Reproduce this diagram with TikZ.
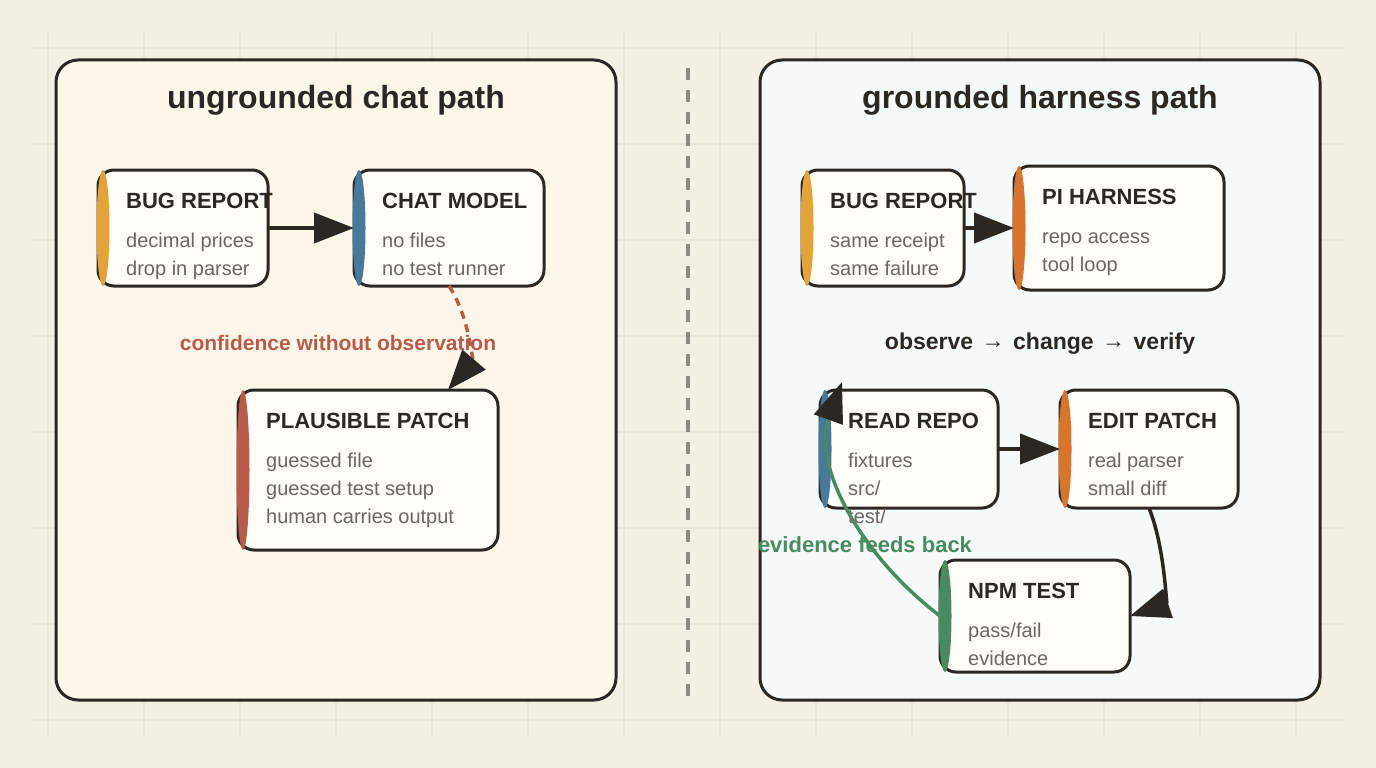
\documentclass[tikz,border=0pt]{standalone}
\usepackage{fontspec}
\setmainfont{Liberation Sans}
\usepackage{tikz}
\usetikzlibrary{positioning, arrows.meta}

\definecolor{paper}{HTML}{F5F0E4}
\definecolor{gridc}{HTML}{EDE6D6}
\definecolor{ink}{HTML}{2B2823}
\definecolor{panelwarm}{HTML}{FDF7EA}
\definecolor{panelcool}{HTML}{F5F9F8}
\definecolor{cardfill}{HTML}{FFFDF7}
\definecolor{mutetext}{HTML}{6B6660}
\definecolor{barorange}{HTML}{E3A23A}
\definecolor{barblue}{HTML}{46799C}
\definecolor{barred}{HTML}{B85B4B}
\definecolor{barrust}{HTML}{D6752B}
\definecolor{bargreen}{HTML}{4A8A60}
\definecolor{divider}{HTML}{8D8881}

\newcommand{\cardhead}[1]{\rule{0pt}{38pt}{\fontsize{22}{28}\selectfont\bfseries\color{ink}#1}}
\newcommand{\steparrow}{\hspace{12pt}\makebox[16pt]{\raisebox{1pt}{→}}\hspace{12pt}}

\tikzset{
    box_panel/.style={rectangle, draw=ink, line width=3pt, rounded corners=22pt, anchor=north west, inner sep=0pt, outer sep=0pt, minimum width=560pt, minimum height=640pt},
    box_titulo/.style={anchor=base, inner sep=0pt, text=ink, font=\fontsize{32}{38}\selectfont\bfseries},
    box_card/.style 2 args={rectangle, draw=ink, line width=3pt, rounded corners=16pt, fill=cardfill, anchor=north west, inner sep=0pt, outer sep=0pt, minimum width=#1, minimum height=#2},
    box_texto/.style={anchor=north west, inner sep=0pt, align=left, text=mutetext, font=\fontsize{20}{28}\selectfont},
    etiqueta/.style={anchor=base, inner sep=0pt, font=\fontsize{22}{26}\selectfont\bfseries},
    flecha/.style={-{Triangle[length=40pt, width=30pt]}, line width=4pt, draw=ink},
    flecha_curva/.style={-{Triangle[length=40pt, width=30pt, color=ink]}, line width=3.5pt}
}

\begin{document}
\begin{tikzpicture}[
        x=1pt, y=-1pt,
        grid_line/.style={draw=gridc, line width=1.2pt},
        divisor/.style={draw=divider, line width=3.5pt, dash pattern=on 12pt off 10pt},
        flecha_duda/.style={flecha_curva, draw=barred, dash pattern=on 8pt off 6pt},
        flecha_retorno/.style={flecha_curva, draw=bargreen}
    ]
    \useasboundingbox (0,0) rectangle (1376,768);
    \fill[paper] (0,0) rectangle (1376,768);

    % Background grid
    \foreach \gx in {48,144,...,1296}
        \draw[grid_line] (\gx,32) -- (\gx,736);
    \foreach \gy in {48,144,...,720}
        \draw[grid_line] (32,\gy) -- (1344,\gy);

    % 1. Panels and titles
    \node[box_panel, fill=panelwarm] (panelL) at (56,60) {};
    \node[box_panel, fill=panelcool] (panelR) at (760,60) {};
    \node[box_titulo] (titleL) at (336,108) {ungrounded chat path};
    \node[box_titulo] (titleR) at (1040,108) {grounded harness path};

    \draw[divisor] (688,68) -- (688,698);

    % 2. Left path cards
    \node[box_card={170pt}{116pt}] (bugL) at (98,170) {};
    \node[box_card={190pt}{116pt}] (chat) at (354,170) {};
    \node[box_card={260pt}{160pt}] (patch) at (238,390) {};

    \fill[barorange] ([xshift=5pt]bugL.west) ellipse [x radius=6.5pt, y radius=58pt];
    \fill[barblue] ([xshift=5pt]chat.west) ellipse [x radius=6.5pt, y radius=58pt];
    \fill[barred] ([xshift=5pt]patch.west) ellipse [x radius=6.5pt, y radius=80pt];

    \node[box_texto] (bugL-txt) at ([xshift=28pt]bugL.north west) {\cardhead{BUG REPORT}\\[11pt] decimal prices\\ drop in parser};
    \node[box_texto] (chat-txt) at ([xshift=28pt]chat.north west) {\cardhead{CHAT MODEL}\\[11pt] no files\\ no test runner};
    \node[box_texto] (patch-txt) at ([xshift=28pt]patch.north west) {\cardhead{PLAUSIBLE PATCH}\\[11pt] guessed file\\ guessed test setup\\ human carries output};

    % 3. Right path cards
    \node[box_card={162pt}{116pt}] (bugR) at (802,170) {};
    \node[box_card={210pt}{124pt}] (pi) at (1014,166) {};
    \node[box_card={178pt}{118pt}] (read) at (820,390) {};
    \node[box_card={178pt}{118pt}] (edit) at (1060,390) {};
    \node[box_card={190pt}{112pt}] (npm) at (940,560) {};

    \fill[barorange] ([xshift=5pt]bugR.west) ellipse [x radius=6.5pt, y radius=58pt];
    \fill[barrust] ([xshift=5pt]pi.west) ellipse [x radius=6.5pt, y radius=62pt];
    \fill[barblue] ([xshift=5pt]read.west) ellipse [x radius=6.5pt, y radius=59pt];
    \fill[barrust] ([xshift=5pt]edit.west) ellipse [x radius=6.5pt, y radius=59pt];
    \fill[bargreen] ([xshift=5pt]npm.west) ellipse [x radius=6.5pt, y radius=56pt];

    \node[box_texto] (bugR-txt) at ([xshift=28pt]bugR.north west) {\cardhead{BUG REPORT}\\[11pt] same receipt\\ same failure};
    \node[box_texto] (pi-txt) at ([xshift=28pt]pi.north west) {\cardhead{PI HARNESS}\\[11pt] repo access\\ tool loop};
    \node[box_texto] (read-txt) at ([xshift=28pt]read.north west) {\cardhead{READ REPO}\\[11pt] fixtures\\ src/\\ test/};
    \node[box_texto] (edit-txt) at ([xshift=28pt]edit.north west) {\cardhead{EDIT PATCH}\\[11pt] real parser\\ small diff};
    \node[box_texto] (npm-txt) at ([xshift=28pt]npm.north west) {\cardhead{NPM TEST}\\[11pt] pass/fail\\ evidence};

    % 4. Labels
    \node[etiqueta, text=barred, font=\fontsize{21}{25}\selectfont\bfseries] (conf) at (338,350) {confidence without observation};
    \node[etiqueta, text=ink, font=\fontsize{23}{27}\selectfont\bfseries] (loop) at (1040,349) {observe\steparrow change\steparrow verify};
    \node[etiqueta, text=bargreen] (evid) at (865,552) {evidence feeds back};

    % --- CONNECTORS ---
    \draw[flecha] (bugL) -- (chat);
    \draw[flecha_duda] (chat.south) .. controls +(21,32) and +(24,-28) .. ([xshift=80pt]patch.north);

    \draw[flecha] (bugR) -- (pi);
    \draw[flecha] (read) -- (edit);
    \draw[flecha_curva, draw=ink] (edit.south) .. controls +(16,40) and +(36,-12) .. (npm.east);
    \draw[flecha_retorno] (npm.west) .. controls +(-80,-61) and +(-30,83) .. ([xshift=22pt, yshift=8pt]read.north west);
\end{tikzpicture}
\end{document}
